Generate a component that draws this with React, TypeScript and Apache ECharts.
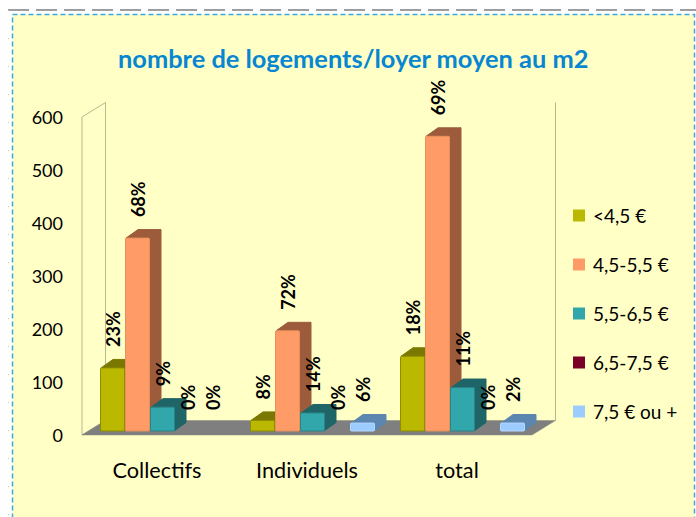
import React, { useEffect, useRef } from "react";
import * as echarts from "echarts";

const categories = ["Collectifs", "Individuels", "total"];
const bandNames = ["<4,5 €", "4,5-5,5 €", "5,5-6,5 €", "6,5-7,5 €", "7,5 € ou +"];
const band1 = [119, 20, 141];
const band2 = [364, 189, 556];
const band3 = [45, 34, 82];
const band4 = [0, 0, 0];
const band5 = [0, 15, 15];
const pct1 = ["23%", "8%", "18%"];
const pct2 = ["68%", "72%", "69%"];
const pct3 = ["9%", "14%", "11%"];
const pct4 = ["0%", "0%", "0%"];
const pct5 = ["0%", "6%", "2%"];
const yTicks = [0, 100, 200, 300, 400, 500, 600];
const allValues = [band1, band2, band3, band4, band5];
const allPct = [pct1, pct2, pct3, pct4, pct5];
const frontColors = ["#BBB800", "#FF9B66", "#31A6AB", "#7B0028", "#9CCBFF"];
const edgeColors = ["#8F8D00", "#E8905C", "#2A8488", "#5A001E", "#B5D8FF"];
const sideColors = ["#7A7800", "#9C5C3C", "#1F6467", "#500018", "#5B86B0"];

const FONT = "Lato, 'Noto Sans', sans-serif";
const DEPTH_X = 12;
const DEPTH_Y = 8.5;
const WALL_X = 23.5;
const WALL_Y = 14.5;

function renderFrame(params: any) {
  const { x, y, width, height } = params.coordSys;
  const b = y + height;
  const wall = "#B9B98F";
  return {
    type: "group",
    children: [
      {
        type: "polygon",
        shape: { points: [[x, y], [x + WALL_X, y - WALL_Y], [x + WALL_X, b - WALL_Y], [x, b]] },
        style: { fill: "#FFFFC8", stroke: wall, lineWidth: 1 },
      },
      {
        type: "line",
        shape: { x1: x + width + WALL_X, y1: y - WALL_Y, x2: x + width + WALL_X, y2: b - WALL_Y },
        style: { stroke: wall, lineWidth: 1 },
      },
      {
        type: "polygon",
        shape: { points: [[x, b], [x + WALL_X, b - WALL_Y], [x + width + WALL_X, b - WALL_Y], [x + width, b]] },
        style: { fill: "#7F7F7F", stroke: "#8A8A7A", lineWidth: 0.5 },
      },
    ],
  };
}

function makeRender(s: number) {
  return (_p: any, api: any) => {
    const i = api.value(0);
    const v = api.value(1);
    const band = api.size([1, 0])[0];
    const w = band / 6;
    const center = api.coord([i, 0])[0];
    const left = center + 5.5 - (w * 5) / 2 + s * w;
    const base = api.coord([i, 0])[1] - 4;
    const top = base - (api.coord([i, 0])[1] - api.coord([i, v])[1]);
    const children: any[] = [];
    if (v > 0) {
      children.push(
        {
          type: "polygon",
          shape: {
            points: [[left + 1, top], [left + 1 + DEPTH_X, top - DEPTH_Y], [left + w + DEPTH_X - 1, top - DEPTH_Y], [left + w - 1, top]],
          },
          style: { fill: sideColors[s], stroke: sideColors[s], lineWidth: 1, lineJoin: "round" },
        },
        {
          type: "polygon",
          shape: {
            points: [[left + w - 1, top], [left + w + DEPTH_X - 1, top - DEPTH_Y], [left + w + DEPTH_X - 1, base - DEPTH_Y], [left + w - 1, base]],
          },
          style: { fill: sideColors[s], stroke: sideColors[s], lineWidth: 1, lineJoin: "round" },
        },
        {
          type: "rect",
          shape: { x: left + 0.5, y: top, width: w - 1, height: base - top, r: 1 },
          style: { fill: frontColors[s], stroke: edgeColors[s], lineWidth: 1 },
        },
      );
    }
    const backTop = v > 0 ? top - DEPTH_Y : base - DEPTH_Y;
    children.push({
      type: "text",
      x: left + w / 2 + 0.5,
      y: backTop - 12.5,
      rotation: Math.PI / 2,
      style: {
        text: allPct[s][i],
        font: `bold 18px ${FONT}`,
        fill: "#000",
        align: "left",
        verticalAlign: "middle",
      },
    });
    return { type: "group", children };
  };
}

export default function App() {
  const ref = useRef<HTMLDivElement>(null);
  useEffect(() => {
    document.body.style.margin = "0";
    const chart = echarts.init(ref.current!, undefined, { renderer: "svg" });
    chart.setOption({
      animation: false,
      backgroundColor: "#fff",
      title: {
        text: "nombre de logements/loyer moyen au m2",
        left: 118,
        top: 45,
        padding: 0,
        textStyle: { color: "#0786D2", fontFamily: FONT, fontWeight: "bold", fontSize: 25.4 },
      },
      graphic: [
        {
          type: "line",
          z: -1,
          shape: { x1: 8, y1: 10, x2: 696, y2: 10 },
          style: { stroke: "#7F7F7F", lineWidth: 1.5, lineDash: [21, 7] },
        },
        {
          type: "line",
          z: -1,
          shape: { x1: 8.5, y1: 10, x2: 8.5, y2: 517 },
          style: { stroke: "#C4C4C4", lineWidth: 1, lineDash: [1, 27] },
        },
        {
          type: "rect",
          z: -1,
          shape: { x: 12.5, y: 14.5, width: 682, height: 530 },
          style: { fill: "#FFFFC6", stroke: "#3FA9DF", lineWidth: 1.5, lineDash: [5, 3] },
        },
      ],
      grid: { left: 82, top: 117, width: 450, height: 318 },
      xAxis: {
        type: "category",
        data: categories,
        axisLine: { show: false },
        axisTick: { show: false },
        axisLabel: { color: "#000", fontFamily: FONT, fontSize: 21.7, margin: 24 },
      },
      yAxis: {
        type: "value",
        min: yTicks[0],
        max: yTicks[yTicks.length - 1],
        interval: 100,
        splitLine: { show: false },
        axisLine: { show: false },
        axisTick: { show: false },
        axisLabel: { color: "#000", fontFamily: FONT, fontSize: 18, margin: 19, padding: [2, 0, 0, 0] },
      },
      legend: {
        orient: "vertical",
        left: 573,
        top: 206,
        padding: 0,
        itemWidth: 12,
        itemHeight: 12,
        itemGap: 30,
        icon: "rect",
        data: bandNames,
        textStyle: { color: "#000", fontFamily: FONT, fontSize: 19, padding: [0, 0, 0, 3] },
      },
      series: [
        {
          type: "custom",
          name: "frame",
          silent: true,
          z: 1,
          clip: false,
          renderItem: renderFrame,
          data: [[0, 0]],
          encode: { x: 0, y: 1 },
        },
        ...bandNames.map((name, s) => ({
          type: "custom",
          name,
          z: 2 + s,
          clip: false,
          itemStyle: { color: frontColors[s] },
          renderItem: makeRender(s),
          encode: { x: 0, y: 1 },
          data: categories.map((_, i) => [i, allValues[s][i]]),
        })),
      ],
    });
    return () => chart.dispose();
  }, []);
  return <div ref={ref} style={{ width: 696, height: 517 }} />;
}
